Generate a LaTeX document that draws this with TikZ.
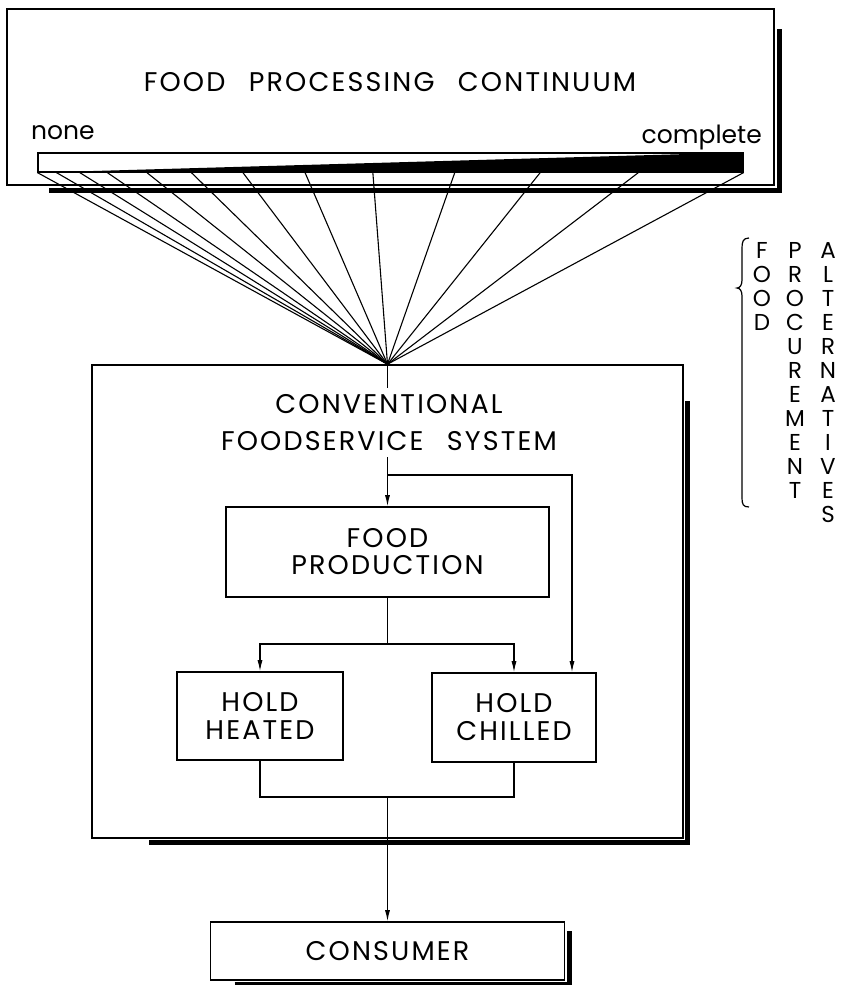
\documentclass[tikz,border=0pt]{standalone}
\usepackage{fontspec}
\newfontfamily\lettering{Poppins}[LetterSpace=8,WordSpace=2.5]
\newfontfamily\plainletters{Poppins}
\usetikzlibrary{arrows.meta, calc}

\begin{document}
\begin{tikzpicture}[x=1pt, y=-1pt,
  box/.style={draw, line width=1.6pt, inner sep=0, align=center,
    font=\lettering\fontsize{27}{27}\selectfont},
  shade/.style={line width=5pt},
  link/.style={line width=1.1pt},
  flow/.style={link, -{Latex[length=11pt,width=5pt]}},
  word/.style={inner sep=0, font=\lettering\fontsize{27}{27}\selectfont},
  upright/.style={inner sep=0, align=center, anchor=north,
    font=\plainletters\fontsize{23}{24}\selectfont}]
  \useasboundingbox[fill=white] (0,0) rectangle (847,985);

  % processing continuum
  \node[box, minimum width=767, minimum height=176] (continuum) at (390.5,97) {};
  \draw[shade] ([shift={(43,5)}]continuum.south west) -- ([shift={(5,5)}]continuum.south east)
    -- ([shift={(5,21)}]continuum.north east);
  \node[word] (title) at (390,82) {FOOD PROCESSING CONTINUUM};
  \node[inner sep=0, anchor=base west, font=\plainletters\fontsize{25}{25}\selectfont] (none) at (31,139) {none};
  \node[inner sep=0, anchor=base east, font=\plainletters\fontsize{25}{25}\selectfont] (complete) at (762,143) {complete};
  \node[draw, line width=1.2pt, fill=white, minimum width=705, minimum height=19, inner sep=0] (bar) at (390.5,162.5) {};
  \fill (bar.south west) -- (bar.north east) -- (bar.south east) -- cycle;

  % foodservice system
  \node[box, minimum width=591, minimum height=473] (system) at (387.5,601.5) {};
  \draw[shade] ([shift={(58,4)}]system.south west) -- ([shift={(4,4)}]system.south east)
    -- ([shift={(4,37)}]system.north east);
  \node[word, align=center, font=\lettering\fontsize{27}{37}\selectfont] (systitle) at (389,423) {CONVENTIONAL\\FOODSERVICE SYSTEM};

  % procurement fan
  \foreach \t in {0,.027,.060,.099,.155,.218,.291,.379,.475,.591,.712,.851,1}
    \draw[link] ($(bar.south west)!\t!(bar.south east)$) -- (system.north);

  \node[box, minimum width=323, minimum height=90] (production) at (387.5,552) {FOOD\\PRODUCTION};
  \node[box, minimum width=166, minimum height=88, font=\lettering\fontsize{27}{28}\selectfont] (heated) at (260,716) {HOLD\\HEATED};
  \node[box, minimum width=164, minimum height=89, font=\lettering\fontsize{27}{28}\selectfont] (chilled) at (514,717.5) {HOLD\\CHILLED};
  \node[box, minimum width=354, minimum height=58] (consumer) at (387.5,951) {CONSUMER};
  \draw[shade] ([shift={(25,4)}]consumer.south west) -- ([shift={(4,4)}]consumer.south east)
    -- ([shift={(4,10)}]consumer.north east);

  \coordinate (stub) at (387.5,388);
  \coordinate (split) at (387.5,457);
  \coordinate (fork) at (387.5,475);
  \coordinate (branch) at (387.5,644);
  \coordinate (merge) at (387.5,797);

  \draw[link] (system.north) -- (stub);
  \draw[flow] (split) -- (production);
  \draw[flow] (fork) -| ([xshift=58]chilled.north);
  \draw[link] (production) -- (branch);
  \draw[flow] (branch) -| (heated);
  \draw[flow] (branch) -| (chilled);
  \draw[link] (heated) |- (merge);
  \draw[link] (chilled) |- (merge);
  \draw[flow] (merge) -- (consumer);

  % procurement alternatives
  \draw[line width=1.2pt] (749,238) .. controls (743,238) and (742,242) .. (742,248) -- (742,280)
    .. controls (742,285) and (740,288) .. (737,288) .. controls (740,288) and (742,291) .. (742,296)
    -- (742,498) .. controls (742,504) and (743,507) .. (749,507);
  \node[upright] (food) at (762,242) {F\\O\\O\\D};
  \node[upright] (procurement) at (795,242) {P\\R\\O\\C\\U\\R\\E\\M\\E\\N\\T};
  \node[upright] (alternatives) at (828,242) {A\\L\\T\\E\\R\\N\\A\\T\\I\\V\\E\\S};
\end{tikzpicture}
\end{document}
